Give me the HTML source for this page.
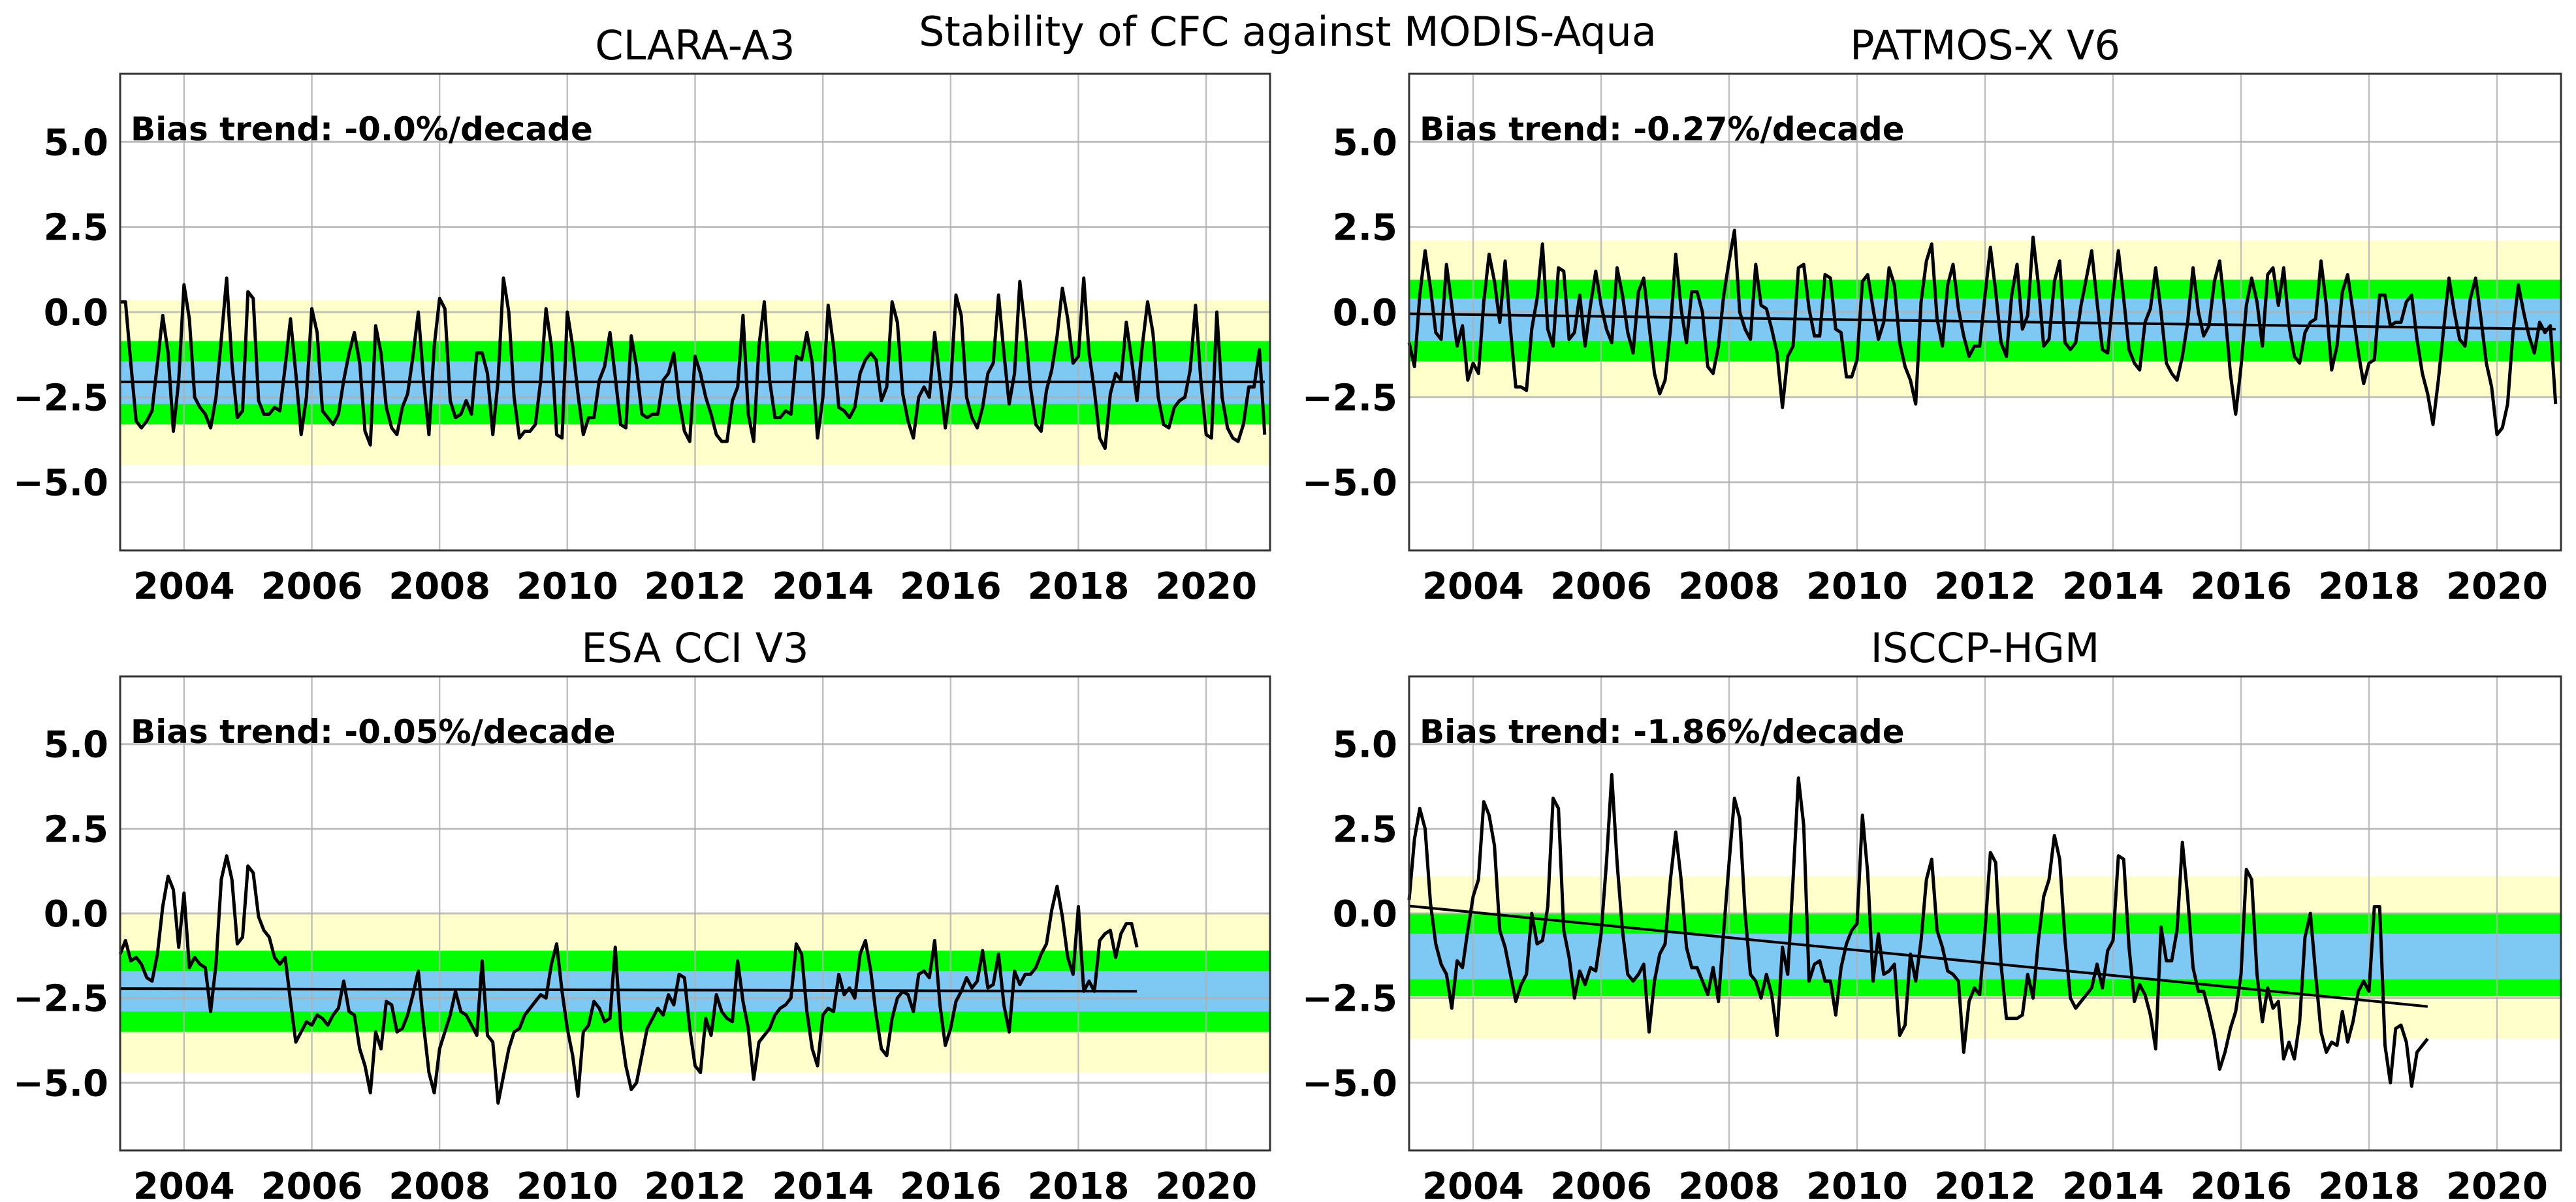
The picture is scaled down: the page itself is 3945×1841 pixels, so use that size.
<!DOCTYPE html>
<html><head><meta charset="utf-8">
<style>
html,body{margin:0;padding:0;background:#fff;}
svg{display:block;}
text{font-family:"DejaVu Sans","Liberation Sans",sans-serif;}
</style></head>
<body>
<svg id="fig" width="3945" height="1841" viewBox="0 0 3945 1841" xmlns="http://www.w3.org/2000/svg">
<rect width="3945" height="1841" fill="#fff"/>
<text x="1972" y="70" font-size="62" text-anchor="middle" fill="#000">Stability of CFC against MODIS-Aqua</text>
</svg>
<script>
const yTicks = [-5, -2.5, 0, 2.5, 5];
const yTickLabels = ["−5.0", "−2.5", "0.0", "2.5", "5.0"];
const xTicks = [2004, 2006, 2008, 2010, 2012, 2014, 2016, 2018, 2020];

const claraValues = [
0.3,0.3,-1.5,-3.2,-3.4,-3.2,-2.9,-1.5,-0.1,-1.2,-3.5,-2.0,
0.8,-0.2,-2.5,-2.8,-3.0,-3.4,-2.5,-0.8,1.0,-1.5,-3.1,-2.9,
0.6,0.4,-2.6,-3.0,-3.0,-2.8,-2.9,-1.6,-0.2,-1.8,-3.6,-2.5,
0.1,-0.6,-2.9,-3.1,-3.3,-3.0,-2.0,-1.2,-0.6,-1.5,-3.5,-3.9,
-0.4,-1.2,-2.8,-3.4,-3.6,-2.8,-2.4,-1.3,0.0,-2.0,-3.6,-1.0,
0.4,0.1,-2.6,-3.1,-3.0,-2.6,-3.0,-1.2,-1.2,-1.8,-3.6,-2.0,
1.0,0.0,-2.5,-3.7,-3.5,-3.5,-3.3,-2.0,0.1,-1.0,-3.6,-3.7,
0.0,-1.0,-2.4,-3.6,-3.1,-3.1,-2.0,-1.6,-0.6,-1.9,-3.3,-3.4,
-0.7,-1.6,-3.0,-3.1,-3.0,-3.0,-2.0,-1.8,-1.2,-2.6,-3.5,-3.8,
-1.3,-1.8,-2.5,-3.0,-3.6,-3.8,-3.8,-2.6,-2.2,-0.1,-3.0,-3.8,
-1.0,0.3,-2.0,-3.1,-3.1,-2.9,-3.0,-1.3,-1.4,-0.6,-1.5,-3.7,
-2.5,0.2,-1.0,-2.8,-2.9,-3.1,-2.8,-1.8,-1.4,-1.2,-1.4,-2.6,
-2.2,0.3,-0.3,-2.4,-3.2,-3.7,-2.5,-2.2,-2.5,-0.6,-2.0,-3.4,
-2.2,0.5,-0.1,-2.5,-3.1,-3.4,-2.8,-1.8,-1.5,0.5,-1.2,-2.7,
-1.8,0.9,-0.5,-2.2,-3.3,-3.5,-2.3,-1.7,-0.7,0.7,-0.2,-1.5,
-1.3,1.0,-1.2,-2.3,-3.7,-4.0,-2.4,-1.8,-2.0,-0.3,-1.4,-2.6,
-1.0,0.3,-0.6,-2.5,-3.3,-3.4,-2.8,-2.6,-2.5,-1.7,0.2,-2.0,
-3.6,-3.7,0.0,-2.5,-3.4,-3.7,-3.8,-3.3,-2.2,-2.2,-1.1,-3.6];
const patmosValues = [
-0.9,-1.6,0.5,1.8,0.7,-0.6,-0.8,1.4,0.2,-1.0,-0.4,-2.0,
-1.5,-1.8,0.3,1.7,0.9,-0.3,1.5,-0.5,-2.2,-2.2,-2.3,-0.5,
0.4,2.0,-0.5,-1.0,1.3,1.2,-0.8,-0.6,0.5,-1.0,0.2,1.2,
0.2,-0.5,-0.9,1.3,0.5,-0.6,-1.2,0.6,1.0,-0.4,-1.8,-2.4,
-2.0,-0.5,1.7,0.1,-0.9,0.6,0.6,0.0,-1.6,-1.8,-1.0,0.5,
1.5,2.4,0.0,-0.5,-0.8,1.4,0.2,0.1,-0.5,-1.2,-2.8,-1.3,
-1.0,1.3,1.4,0.1,-0.7,-0.7,1.1,1.0,-0.5,-0.6,-1.9,-1.9,
-1.4,0.9,1.1,0.1,-0.8,-0.3,1.3,0.8,-0.9,-1.6,-2.0,-2.7,
0.3,1.5,2.0,-0.2,-1.0,0.8,1.4,0.1,-0.7,-1.3,-1.0,-1.0,
0.5,1.9,0.6,-0.9,-1.3,0.5,1.4,-0.5,-0.1,2.2,0.8,-1.0,
-0.8,0.9,1.5,-0.9,-1.1,-0.9,0.2,1.0,1.8,0.3,-1.1,-1.2,
0.5,1.8,0.4,-1.1,-1.5,-1.7,-0.3,0.1,1.3,0.0,-1.5,-1.8,
-2.0,-1.3,-0.3,1.3,0.0,-0.7,-0.4,0.9,1.5,0.0,-1.8,-3.0,
-1.6,0.2,1.0,0.3,-1.0,1.1,1.3,0.2,1.3,-0.4,-1.3,-1.5,
-0.6,-0.3,-0.2,1.5,0.2,-1.7,-1.0,0.6,1.1,0.0,-1.2,-2.1,
-1.5,-1.4,0.5,0.5,-0.4,-0.3,-0.3,0.3,0.5,-0.8,-1.8,-2.4,
-3.3,-2.0,-0.5,1.0,0.0,-0.8,-1.0,0.4,1.0,-0.2,-1.5,-2.2,
-3.6,-3.4,-2.7,-0.6,0.8,0.0,-0.7,-1.2,-0.3,-0.6,-0.4,-2.7];
const esaValues = [
-1.2,-0.8,-1.4,-1.3,-1.5,-1.9,-2.0,-1.2,0.2,1.1,0.7,-1.0,
0.6,-1.6,-1.3,-1.5,-1.6,-2.9,-1.5,1.0,1.7,1.0,-0.9,-0.7,
1.4,1.2,-0.1,-0.5,-0.7,-1.3,-1.5,-1.3,-2.6,-3.8,-3.5,-3.2,
-3.3,-3.0,-3.1,-3.3,-3.0,-2.8,-2.0,-2.9,-3.0,-4.0,-4.5,-5.3,
-3.5,-4.0,-2.6,-2.7,-3.5,-3.4,-3.0,-2.4,-1.7,-3.3,-4.7,-5.3,
-4.0,-3.5,-3.0,-2.3,-2.9,-3.0,-3.3,-3.6,-1.4,-3.6,-3.8,-5.6,
-4.8,-4.0,-3.5,-3.4,-3.0,-2.8,-2.6,-2.4,-2.5,-1.5,-0.9,-2.3,
-3.4,-4.2,-5.4,-3.5,-3.3,-2.6,-2.8,-3.2,-3.1,-1.0,-3.4,-4.5,
-5.2,-5.0,-4.2,-3.4,-3.1,-2.8,-3.0,-2.4,-2.7,-1.8,-1.9,-3.4,
-4.5,-4.7,-3.1,-3.6,-2.4,-2.9,-3.1,-3.2,-1.4,-2.6,-3.4,-4.9,
-3.8,-3.6,-3.4,-3.0,-2.8,-2.7,-2.5,-0.9,-1.2,-2.9,-4.0,-4.5,
-3.0,-2.8,-2.9,-1.8,-2.4,-2.2,-2.5,-1.2,-0.8,-1.7,-3.0,-4.0,
-4.2,-3.1,-2.5,-2.3,-2.4,-2.9,-1.8,-1.7,-1.9,-0.8,-2.7,-3.9,
-3.4,-2.6,-2.3,-1.9,-2.2,-2.0,-1.1,-2.2,-2.1,-1.2,-2.7,-3.5,
-1.7,-2.1,-1.8,-1.8,-1.6,-1.2,-0.9,0.1,0.8,-0.1,-1.3,-1.8,
0.2,-2.3,-2.0,-2.3,-0.8,-0.6,-0.5,-1.3,-0.6,-0.3,-0.3,-1.0];
const isccpValues = [
0.4,2.2,3.1,2.5,0.3,-0.9,-1.5,-1.8,-2.8,-1.4,-1.6,-0.5,
0.5,1.0,3.3,2.9,2.0,-0.5,-1.0,-1.8,-2.6,-2.1,-1.8,0.0,
-0.9,-0.8,0.2,3.4,3.1,-0.5,-1.3,-2.5,-1.7,-2.1,-1.6,-1.7,
-0.6,1.5,4.1,1.5,-0.5,-1.8,-2.0,-1.8,-1.5,-3.5,-2.0,-1.2,
-0.9,1.0,2.4,1.0,-1.0,-1.6,-1.6,-2.0,-2.4,-1.6,-2.6,-0.5,
1.5,3.4,2.8,0.0,-1.8,-2.0,-2.5,-1.8,-2.4,-3.6,-1.0,-1.8,
1.0,4.0,2.6,-2.0,-1.5,-1.4,-2.0,-2.0,-3.0,-1.6,-0.9,-0.5,
-0.3,2.9,1.2,-2.0,-0.6,-1.8,-1.7,-1.5,-3.6,-3.3,-1.2,-2.0,
-0.8,1.0,1.6,-0.5,-1.0,-1.7,-1.8,-2.0,-4.1,-2.6,-2.2,-2.4,
-0.5,1.8,1.5,-1.5,-3.1,-3.1,-3.1,-3.0,-1.8,-2.5,-0.8,0.5,
1.0,2.3,1.6,-0.8,-2.5,-2.8,-2.6,-2.4,-2.2,-1.5,-2.2,-1.1,
-0.8,1.7,1.6,-1.0,-2.6,-2.1,-2.4,-3.0,-4.0,-0.4,-1.4,-1.4,
-0.5,2.1,0.5,-1.6,-2.3,-2.3,-2.9,-3.6,-4.6,-4.1,-3.4,-2.9,
-1.8,1.3,1.0,-1.8,-3.2,-2.2,-2.8,-2.6,-4.3,-3.8,-4.3,-3.2,
-0.7,0.0,-1.8,-3.5,-4.1,-3.8,-3.9,-2.9,-3.8,-3.2,-2.3,-2.0,
-2.3,0.2,0.2,-3.9,-5.0,-3.4,-3.3,-3.8,-5.1,-4.1,-3.9,-3.7];

const panelNames = ["CLARA-A3", "PATMOS-X V6", "ESA CCI V3", "ISCCP-HGM"];
const trendTexts = ["Bias trend: -0.0%/decade", "Bias trend: -0.27%/decade", "Bias trend: -0.05%/decade", "Bias trend: -1.86%/decade"];
const trendStart = [-2.05, -0.05, -2.22, 0.22];
const trendEnd = [-2.05, -0.5, -2.3, -2.75];
const yellowBand = [[0.35, -4.5], [2.1, -2.5], [0.0, -4.7], [1.1, -3.7]];
const greenBand = [[-0.85, -3.3], [0.95, -1.45], [-1.1, -3.5], [0.0, -2.45]];
const blueBand = [[-1.45, -2.7], [0.4, -0.85], [-1.7, -2.9], [-0.6, -1.95]];
const seriesList = [claraValues, patmosValues, esaValues, isccpValues];

const NS = "http://www.w3.org/2000/svg";
const svg = document.getElementById("fig");
const layouts = [
  {l:184, r:1945, t:113, b:843},
  {l:2158, r:3922, t:113, b:843},
  {l:184, r:1945, t:1036, b:1762},
  {l:2158, r:3922, t:1036, b:1762}
];
function mk(tag, attrs, parent){
  const e = document.createElementNS(NS, tag);
  for (const k in attrs) e.setAttribute(k, attrs[k]);
  (parent||svg).appendChild(e);
  return e;
}
layouts.forEach((L, i) => {
  const xs = t => L.l + (t - 2003) / 18 * (L.r - L.l);
  const ys = v => L.t + (7 - v) / 14 * (L.b - L.t);
  const g = mk("g", {});
  
  
  const title = mk("text", {x:(L.l+L.r)/2, y:L.t-22, "font-size":62, "text-anchor":"middle"}, g);
  title.textContent = panelNames[i];
  
  
  const bands = [[yellowBand[i], "#ffffcc", "yellow-band"], [greenBand[i], "#00ff00", "green-band"], [blueBand[i], "#7ec8f4", "blue-band"]];
  bands.forEach(b => {
    const r = mk("rect", {x:L.l, y:ys(b[0][0]), width:L.r-L.l, height:ys(b[0][1])-ys(b[0][0]), fill:b[1]}, g);
    
    
  });
  xTicks.forEach(t => {
    const gl = mk("line", {x1:xs(t), x2:xs(t), y1:L.t, y2:L.b, stroke:"#b0b0b0", "stroke-width":2.5, "stroke-opacity":0.8}, g);
    
    
    const tl = mk("text", {x:xs(t), y:L.b+74, "font-size":56, "font-weight":"bold", "text-anchor":"middle"}, g);
    tl.textContent = String(t);
    
    
  });
  yTicks.forEach((v, k) => {
    const gl = mk("line", {x1:L.l, x2:L.r, y1:ys(v), y2:ys(v), stroke:"#b0b0b0", "stroke-width":3, "stroke-opacity":0.8}, g);
    
    
    const tl = mk("text", {x:L.l-18, y:ys(v)+20, "font-size":56, "font-weight":"bold", "text-anchor":"end"}, g);
    tl.textContent = yTickLabels[k];
    
    
  });
  const vals = seriesList[i];
  const pts = vals.map((v, m) => xs(2003 + m/12).toFixed(1) + "," + ys(v).toFixed(1)).join(" ");
  const pl = mk("polyline", {points:pts, fill:"none", stroke:"#000", "stroke-width":5, "stroke-linejoin":"round"}, g);
  
  
  const tEnd = 2003 + (vals.length - 1)/12;
  const tr = mk("line", {x1:xs(2003), y1:ys(trendStart[i]), x2:xs(tEnd), y2:ys(trendEnd[i]), stroke:"#000", "stroke-width":4}, g);
  
  
  const bt = mk("text", {x:L.l+16, y:L.t+102, "font-size":50, "font-weight":"bold"}, g);
  bt.textContent = trendTexts[i];
  
  
  const fr = mk("rect", {x:L.l, y:L.t, width:L.r-L.l, height:L.b-L.t, fill:"none", stroke:"#333", "stroke-width":3}, g);
  
  
});
</script>
</body></html>
